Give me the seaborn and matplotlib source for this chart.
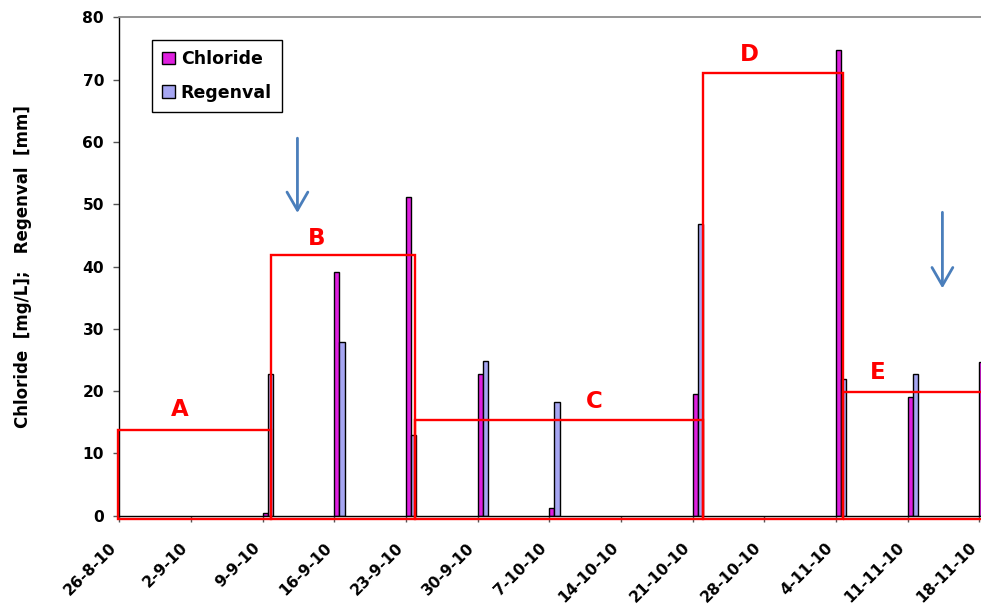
import numpy as np
import pandas as pd
import matplotlib.pyplot as plt
import seaborn as sns
from matplotlib.patches import Rectangle

# sampling dates and measured values
start_date = '2010-08-26'
sample_dates = ['2010-09-09', '2010-09-16', '2010-09-23', '2010-09-30', '2010-10-07',
                '2010-10-21', '2010-11-04', '2010-11-11', '2010-11-18']
chloride = [0.5, 39.2, 51.2, 22.7, 1.2, 19.6, 74.7, 19.1, 24.6]
regenval = [22.7, 27.9, 12.9, 24.8, 18.2, 46.9, 22.0, 22.7, np.nan]

tick_labels = ['26-8-10', '2-9-10', '9-9-10', '16-9-10', '23-9-10', '30-9-10', '7-10-10',
               '14-10-10', '21-10-10', '28-10-10', '4-11-10', '11-11-10', '18-11-10']

# periods A..E (days after start date) and their levels
period_names = ['A', 'B', 'C', 'D', 'E']
period_start = [-0.1, 14.8, 28.9, 57.0, 70.65]
period_end = [14.8, 28.9, 57.0, 70.65, 84.6]
period_level = [13.8, 41.8, 15.4, 71.1, 19.9]
period_label_x = [5.9, 19.3, 46.4, 61.5, 74.1]
period_label_y = [17.0, 44.5, 18.4, 74.1, 23.0]

# blue arrows
arrow_x = [17.4, 80.4]
arrow_top = [60.6, 48.7]
arrow_tip = [48.6, 36.5]

sns.set_style('white')
plt.rcParams['font.family'] = ['DejaVu Sans']
plt.rcParams['font.weight'] = 'bold'
for key in ['text.color', 'axes.labelcolor', 'xtick.labelcolor', 'ytick.labelcolor']:
    plt.rcParams[key] = 'black'

days = (pd.to_datetime(sample_dates) - pd.Timestamp(start_date)).days.values
df = pd.DataFrame({
    'day': np.tile(days + 0.5, 2),
    'value': chloride + regenval,
    'series': ['Chloride'] * len(days) + ['Regenval'] * len(days),
})

fig = plt.figure(figsize=(9.81, 6.08), dpi=100)
ax = fig.add_axes([0.1216, 0.1518, 0.8784, 0.8197])

sns.barplot(data=df, x='day', y='value', hue='series', native_scale=True,
            palette={'Chloride': '#FF00FF', 'Regenval': '#9999FF'},
            width=1 / 7, errorbar=None, edgecolor='black', linewidth=1,
            ax=ax)

# period boxes
for s, e, lev in zip(period_start, period_end, period_level):
    ax.add_patch(Rectangle((s, -0.55), e - s, lev + 0.55, fill=False,
                           edgecolor='red', lw=1.7, clip_on=False, zorder=5))
for name, x, y in zip(period_names, period_label_x, period_label_y):
    ax.text(x, y, name, color='red', fontsize=16.5, fontweight='bold',
            ha='center', va='center', zorder=6)

for x, y0, y1 in zip(arrow_x, arrow_top, arrow_tip):
    ax.annotate('', xy=(x, y1), xytext=(x, y0),
                arrowprops=dict(arrowstyle='->,head_length=1.3,head_width=0.75',
                                color='#4A7EBB', lw=2, mutation_scale=10,
                                shrinkA=0, shrinkB=0))

ax.set_xlim(0, 84.17)
ax.set_ylim(0, 80)
ax.set_xticks(np.arange(0, 85, 7))
ax.set_xticklabels(tick_labels, rotation=45, ha='right', va='bottom',
                   rotation_mode='anchor', fontsize=11.2, fontweight='bold')
ax.set_yticks(np.arange(0, 81, 10))
ax.set_yticklabels([str(v) for v in range(0, 81, 10)], fontsize=11.2, fontweight='bold')
ax.tick_params(axis='x', direction='out', length=4, width=1, color='#555555', pad=21, bottom=True)
ax.tick_params(axis='y', direction='out', length=4, width=1, color='#555555', pad=7, left=True)

ax.set_xlabel('')
ax.set_ylabel('Chloride  [mg/L];   Regenval  [mm]', fontsize=12, fontweight='bold')
ax.yaxis.set_label_coords(-0.101, 0.5)

for side in ['left', 'bottom']:
    ax.spines[side].set_color('black')
    ax.spines[side].set_linewidth(1)
ax.spines['right'].set_visible(False)
ax.spines['top'].set_color('#8c8c8c')
ax.spines['top'].set_linewidth(1.3)

handles, labels = ax.get_legend_handles_labels()
ax.legend(handles, labels, loc='upper left', bbox_to_anchor=(0.038, 0.955),
          fontsize=12.5, frameon=True, fancybox=False, framealpha=1,
          edgecolor='black', labelspacing=0.9, handlelength=0.75,
          handleheight=0.75, handletextpad=0.3, borderpad=0.6, borderaxespad=0)
ax.get_legend().get_frame().set_linewidth(1)

fig.savefig('out.png', dpi=100)
